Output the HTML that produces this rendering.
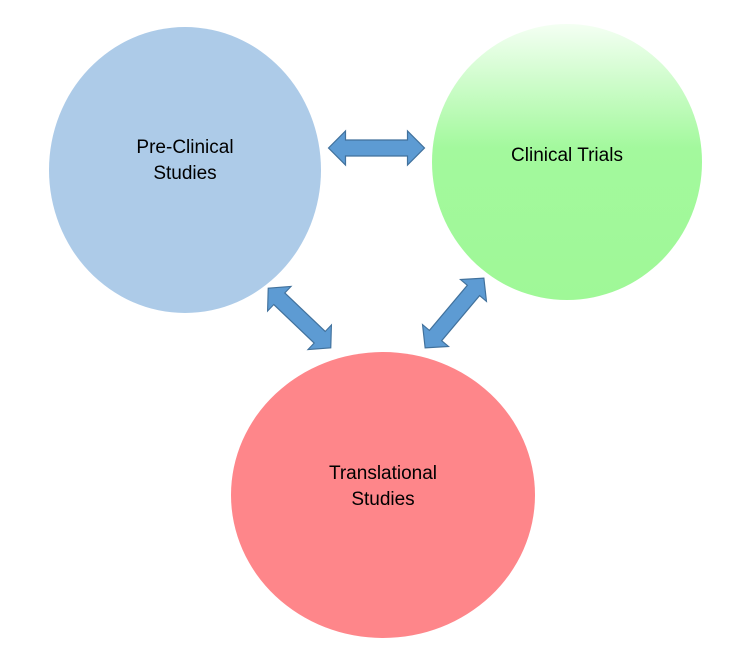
<!DOCTYPE html>
<html><head><style>body{margin:0;background:#fff}svg{display:block}</style></head><body>
<svg width="753" height="672" viewBox="0 0 753 672" xmlns="http://www.w3.org/2000/svg">
<defs>
<linearGradient id="g" x1="0" y1="0" x2="0" y2="1">
<stop offset="0" stop-color="#f4fff3"/>
<stop offset="0.45" stop-color="#a3f99d"/>
<stop offset="1" stop-color="#9ff897"/>
</linearGradient>
<polygon id="arr" points="-48,0 -31,-17 -31,-8 31,-8 31,-17 48,0 31,17 31,8 -31,8 -31,17" fill="#5d9bd3" stroke="#41719c" stroke-width="1.2"/>
</defs>
<ellipse cx="185" cy="170" rx="136" ry="143" fill="#adcbe8"/>
<ellipse cx="567" cy="162" rx="135" ry="138" fill="url(#g)"/>
<ellipse cx="383" cy="495" rx="152" ry="143" fill="#fe868a"/>
<use href="#arr" transform="translate(376.5,148)"/>
<use href="#arr" transform="translate(299.5,318) rotate(43.6) scale(0.9,1)"/>
<use href="#arr" transform="translate(454.5,313) rotate(-49.9) scale(0.95,1)"/>
<g font-family="Liberation Sans, sans-serif" font-size="19" fill="#000" text-anchor="middle">
<text x="185" y="153">Pre-Clinical</text>
<text x="185" y="179">Studies</text>
<text x="567" y="161">Clinical Trials</text>
<text x="383" y="479">Translational</text>
<text x="383" y="505">Studies</text>
</g>
</svg>
</body></html>
